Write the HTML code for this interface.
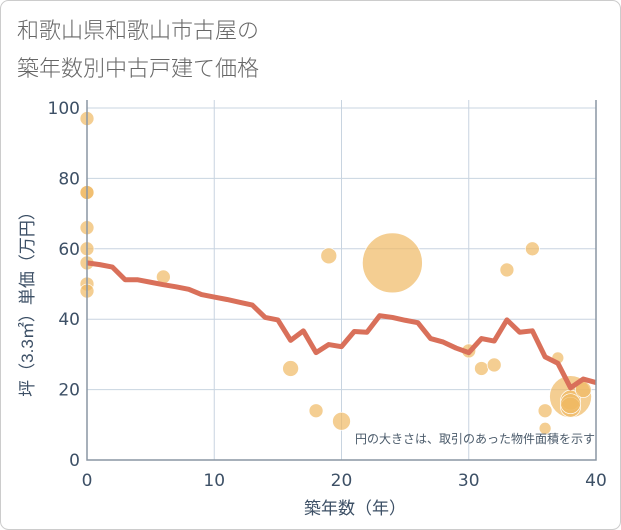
<!DOCTYPE html>
<html><head><meta charset="utf-8"><style>
body{margin:0;background:#fff;}
svg{display:block;font-family:"Liberation Sans","Noto Sans CJK JP",sans-serif;}
</style></head><body>
<svg id="chart" width="621" height="530">
<rect x="0.5" y="0.5" width="620" height="529" rx="8" fill="#fff" stroke="#ccc"/>
<text x="17" y="38" font-size="22" fill="#666" font-family="'Noto Sans CJK JP',sans-serif" font-weight="300">和歌山県和歌山市古屋の</text>
<text x="17" y="76" font-size="22" fill="#666" font-family="'Noto Sans CJK JP',sans-serif" font-weight="300">築年数別中古戸建て価格</text>
<g id="grid"></g>
<g id="bubbles"></g>
<g id="line"></g>
<g id="axes"></g>
<text x="595" y="443" font-size="12" fill="#4a5a6a" text-anchor="end">円の大きさは、取引のあった物件面積を示す</text>
<text x="355" y="514" font-size="17" fill="#3d5066" text-anchor="middle">築年数（年）</text>
<text transform="translate(33,300) rotate(-90)" font-size="17" fill="#3d5066" text-anchor="middle">坪（3.3㎡）単価（万円）</text>
</svg>
<script>
const xTicks=[0,10,20,30,40];
const yTicks=[0,20,40,60,80,100];
const lineX=[0,1,2,3,4,5,6,7,8,9,10,11,12,13,14,15,16,17,18,19,20,21,22,23,24,25,26,27,28,29,30,31,32,33,34,35,36,37,38,39,40];
const lineY=[56,55.5,54.8,51.2,51.2,50.5,49.8,49.2,48.5,47,46.3,45.6,44.8,44,40.5,39.8,34,36.7,30.5,32.8,32.2,36.5,36.3,41,40.5,39.7,39,34.5,33.5,31.8,30.5,34.5,33.8,39.8,36.3,36.7,29.3,27.5,20.5,23,22];
const bubX=[0,0,0,0,0,0,0,0,6,16,18,19,20,24,30,31,32,33,35,36,36,37,38,38,38,38,39];
const bubY=[97,76,76,66,60,56,50,48,52,26,14,58,11,56,31,26,27,54,60,14,9,29,18,17,15,16,20];
const bubR=[7,7,7,7,7,7,7,7,7,8,7,8,9,30,7,7,7,7,7,7,6,6,21,10,10,10,8];
const X=v=>87+v*(596-87)/40, Y=v=>460-v*3.52;
const ns="http://www.w3.org/2000/svg";
function mk(p,t,a){const e=document.createElementNS(ns,t);for(const k in a)e.setAttribute(k,a[k]);p.appendChild(e);return e;}
const g=document.getElementById('grid'),ax=document.getElementById('axes');
xTicks.forEach(t=>{const l=mk(g,'line',{x1:X(t),x2:X(t),y1:100,y2:460,stroke:'#c8d4e0'});


const tx=mk(ax,'text',{x:X(t),y:486,'font-size':17,fill:'#3d5066','text-anchor':'middle','font-family':'DejaVu Sans, sans-serif'});tx.textContent=t;

});
yTicks.forEach(t=>{const l=mk(g,'line',{x1:87,x2:596,y1:Y(t),y2:Y(t),stroke:'#c8d4e0'});


const tx=mk(ax,'text',{x:80,y:Y(t)+6,'font-size':17,fill:'#3d5066','text-anchor':'end','font-family':'DejaVu Sans, sans-serif'});tx.textContent=t;

});
const frame=mk(ax,'path',{d:'M87 100V460H596V100',fill:'none',stroke:'#8a96a3','stroke-width':1.5});


const b=document.getElementById('bubbles');
bubX.forEach((v,i)=>{const c=mk(b,'circle',{cx:X(v),cy:Y(bubY[i]),r:bubR[i],fill:'rgba(240,185,100,0.7)',stroke:'#fff','stroke-width':0.7});

});
const pl=mk(document.getElementById('line'),'polyline',{points:lineX.map((v,i)=>X(v)+','+Y(lineY[i])).join(' '),fill:'none',stroke:'#d9705a','stroke-width':5,'stroke-linejoin':'round'});


</script>
</body></html>
